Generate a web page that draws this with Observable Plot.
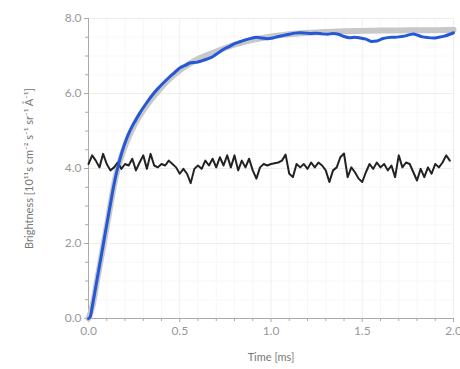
<!DOCTYPE html>
<html>
<head>
<meta charset="utf-8">
<script src="https://cdn.jsdelivr.net/npm/d3@7"></script>
<script src="https://cdn.jsdelivr.net/npm/@observablehq/plot@0.6"></script>
<style>
  html, body { margin: 0; padding: 0; background: #fff; }
  #chart { width: 460px; height: 369px; }
</style>
</head>
<body>
<div id="chart"></div>
<script>
// ---- data ----
const xTickValues = [0, 0.5, 1.0, 1.5, 2.0];
const yTickValues = [0, 2, 4, 6, 8];
const xMinorTicks = [0.1,0.2,0.3,0.4,0.6,0.7,0.8,0.9,1.1,1.2,1.3,1.4,1.6,1.7,1.8,1.9];
const yMinorTicks = [0.5,1,1.5,2.5,3,3.5,4.5,5,5.5,6.5,7,7.5];
const xLabel = "Time [ms]";
const yLabel = "Brightness [10¹¹s cm⁻² s⁻¹ sr⁻¹ Å⁻¹]";

// blue (measured rise)
const blueT = [0,0.01,0.02,0.04,0.06,0.08,0.10,0.12,0.14,0.16,0.18,0.20,0.22,0.24,0.26,0.28,0.30,0.32,0.35,0.38,0.41,0.44,0.47,0.50,0.53,0.56,0.59,0.62,0.65,0.68,0.71,0.74,0.77,0.80,0.83,0.86,0.89,0.92,0.95,0.98,1.01,1.04,1.07,1.10,1.13,1.16,1.19,1.22,1.25,1.28,1.31,1.34,1.37,1.40,1.43,1.46,1.49,1.52,1.55,1.58,1.61,1.64,1.67,1.70,1.73,1.76,1.78,1.80,1.83,1.86,1.89,1.92,1.95,1.98,2.0];
const blueV = [0,0.05,0.3,0.85,1.4,1.95,2.5,3.05,3.58,4.02,4.38,4.68,4.93,5.13,5.3,5.47,5.62,5.76,5.96,6.13,6.28,6.42,6.55,6.68,6.75,6.82,6.83,6.87,6.92,6.98,7.08,7.18,7.25,7.33,7.38,7.43,7.47,7.5,7.48,7.46,7.48,7.52,7.55,7.58,7.61,7.62,7.61,7.60,7.61,7.59,7.58,7.60,7.58,7.52,7.49,7.50,7.48,7.45,7.39,7.40,7.46,7.49,7.50,7.51,7.53,7.57,7.59,7.56,7.51,7.49,7.48,7.50,7.53,7.58,7.62];

// grey (smooth fit)
const greyT = [0,0.02,0.05,0.1,0.15,0.2,0.25,0.3,0.35,0.4,0.45,0.5,0.55,0.6,0.7,0.8,0.9,1.0,1.1,1.2,1.3,1.4,1.5,1.6,1.7,1.8,1.9,2.0];
const greyV = [0,0.3,1.1,2.45,3.8,4.6,5.15,5.55,5.88,6.17,6.42,6.62,6.78,6.92,7.12,7.3,7.43,7.52,7.58,7.62,7.64,7.66,7.67,7.68,7.68,7.69,7.69,7.7];

// black (flat noisy signal), t = 0, 0.02, ... 1.98
const blackV = [4.12,4.35,4.21,4.03,4.39,4.12,3.95,4.03,4.16,3.99,
  4.12,4.08,4.26,3.95,4.16,4.35,3.99,4.39,4.08,4.03,
  4.12,4.08,4.21,4.12,4.03,3.86,3.99,3.86,3.61,3.99,
  4.08,3.99,4.21,4.08,4.26,4.03,4.30,4.08,4.35,4.03,
  4.35,3.95,4.21,4.03,4.26,3.95,3.73,4.03,4.12,4.08,
  4.12,4.14,4.16,4.21,4.37,3.86,3.77,4.12,4.03,4.12,
  3.99,4.16,4.03,4.16,4.08,3.95,3.64,3.95,4.03,4.30,
  4.40,3.77,4.03,3.90,3.73,3.64,3.90,4.12,3.99,4.16,
  4.03,4.12,3.95,4.08,3.77,4.35,4.03,4.16,4.12,3.90,
  3.68,3.99,3.77,4.03,3.86,4.12,4.03,4.16,4.35,4.21];
const blackT = blackV.map((_, i) => +(i * 0.02).toFixed(2));

const blue = blueT.map((t, i) => ({t, v: blueV[i]}));
const grey = greyT.map((t, i) => ({t, v: greyV[i]}));
const black = blackT.map((t, i) => ({t, v: blackV[i]}));

const font = "Lato, 'Open Sans', sans-serif";

const chart = Plot.plot({
  width: 460,
  height: 369,
  marginLeft: 88,
  marginRight: 7,
  marginTop: 18,
  marginBottom: 51,
  style: {fontFamily: font, fontSize: "12px", color: "#999", background: "#fff", overflow: "visible"},
  x: {domain: [0, 2]},
  y: {domain: [0, 8]},
  marks: [
    Plot.ruleX(xMinorTicks, {stroke: "#f7f7f7", strokeWidth: 1}),
    Plot.ruleY(yMinorTicks, {stroke: "#f7f7f7", strokeWidth: 1}),
    Plot.ruleX(xTickValues.slice(1), {stroke: "#eeeeee", strokeWidth: 1}),
    Plot.ruleY(yTickValues.slice(1), {stroke: "#eeeeee", strokeWidth: 1}),
    Plot.axisX({ticks: xMinorTicks, tickSize: 3, stroke: "#aaa", text: null, label: null}),
    Plot.axisY({ticks: yMinorTicks, tickSize: 3, stroke: "#aaa", text: null, label: null}),
    Plot.axisX({ticks: xTickValues, tickSize: 4, stroke: "#aaa", tickPadding: 4,
      tickFormat: d => d.toFixed(1), fill: "#999", fontSize: 12,
      label: xLabel, labelAnchor: "center", labelArrow: "none", labelOffset: 42}),
    Plot.axisY({ticks: yTickValues, tickSize: 4, stroke: "#aaa", tickPadding: 3,
      tickFormat: d => d.toFixed(1), fill: "#999", fontSize: 12,
      label: yLabel, labelAnchor: "center", labelArrow: "none", labelOffset: 63}),
    Plot.ruleY([0], {stroke: "#aaa"}),
    Plot.ruleX([0], {stroke: "#aaa"}),
    Plot.line(grey, {x: "t", y: "v", stroke: "#c8c8c8", strokeWidth: 6, curve: "monotone-x"}),
    Plot.line(black, {x: "t", y: "v", stroke: "#222", strokeWidth: 2, curve: "linear", strokeLinejoin: "round"}),
    Plot.line(blue, {x: "t", y: "v", stroke: "#2458d6", strokeWidth: 3, curve: "monotone-x"})
  ]
});
d3.select(chart).selectAll("g[aria-label='x-axis label'] text, g[aria-label='y-axis label'] text")
  .attr("fill", "#777").style("font-size", "11px");
document.getElementById("chart").appendChild(chart);
</script>
</body>
</html>
